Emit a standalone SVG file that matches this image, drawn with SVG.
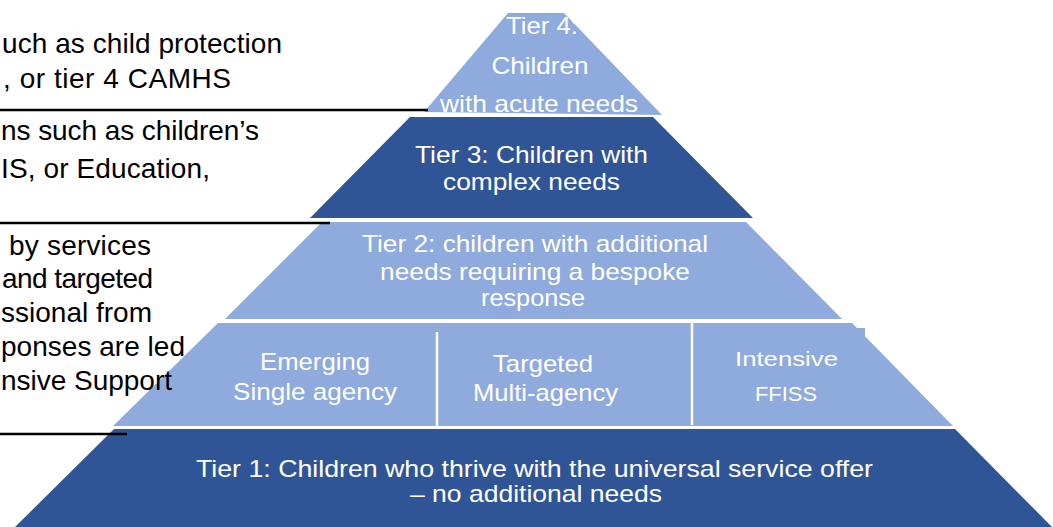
<svg xmlns="http://www.w3.org/2000/svg" width="1053" height="527" viewBox="0 0 1053 527">
  <style>
    .dark { fill: #2F5597; }
    .light { fill: #8FAADC; }
    .t { font-family: "Liberation Sans", Arial, sans-serif; fill: #FFFFFF; font-size: 24px; text-anchor: middle; }
    .side { font-family: "Liberation Sans", Arial, sans-serif; fill: #000000; font-size: 28px; text-anchor: start; }
    .rule { stroke: #000000; stroke-width: 2.5; fill: none; }
    .div { stroke: #FFFFFF; stroke-width: 2.5; fill: none; }
  </style>
  <rect x="0" y="0" width="1053" height="527" fill="#FFFFFF"/>

  <g id="tier4">
    <polygon class="light" points="508,13 564,13 662,115 424,112"/>
    <text class="t" x="542" y="34" textLength="72" lengthAdjust="spacingAndGlyphs">Tier 4:</text>
    <text class="t" x="540" y="74" textLength="97" lengthAdjust="spacingAndGlyphs">Children</text>
    <text class="t" x="539" y="112" textLength="198" lengthAdjust="spacingAndGlyphs">with acute needs</text>
  </g>

  <g id="tier3">
    <polygon class="dark" points="410,117 653,117 753,218 310,218"/>
    <text class="t" x="531.5" y="163" textLength="233" lengthAdjust="spacingAndGlyphs">Tier 3: Children with</text>
    <text class="t" x="531.5" y="190" textLength="177" lengthAdjust="spacingAndGlyphs">complex needs</text>
  </g>

  <g id="tier2">
    <polygon class="light" points="322,222 746,222 842,319 225,319"/>
    <text class="t" x="535" y="252" textLength="346" lengthAdjust="spacingAndGlyphs">Tier 2: children with additional</text>
    <text class="t" x="535" y="280" textLength="310" lengthAdjust="spacingAndGlyphs">needs requiring a bespoke</text>
    <text class="t" x="533" y="306" textLength="104" lengthAdjust="spacingAndGlyphs">response</text>
  </g>

  <g id="tier2-responses">
    <polygon class="light" points="218,323 852,323 953,426 113,426"/>
    <rect class="light" x="846" y="328" width="19" height="9"/>
    <line class="div" x1="437" y1="332" x2="437" y2="428"/>
    <line class="div" x1="692" y1="323" x2="692" y2="425"/>
  </g>

  <g id="emerging">
    <text class="t" x="315" y="370" textLength="110" lengthAdjust="spacingAndGlyphs">Emerging</text>
    <text class="t" x="315" y="400" textLength="164" lengthAdjust="spacingAndGlyphs">Single agency</text>
  </g>

  <g id="targeted">
    <text class="t" x="543" y="372" textLength="100" lengthAdjust="spacingAndGlyphs">Targeted</text>
    <text class="t" x="545.5" y="401" textLength="145" lengthAdjust="spacingAndGlyphs">Multi-agency</text>
  </g>

  <g id="intensive">
    <text class="t" x="786.5" y="366" style="font-size:21px" textLength="103" lengthAdjust="spacingAndGlyphs">Intensive</text>
    <text class="t" x="786" y="401" style="font-size:21px" textLength="62" lengthAdjust="spacingAndGlyphs">FFISS</text>
  </g>

  <g id="tier1">
    <polygon class="dark" points="114,429 955,429 1052,527 15,527"/>
    <text class="t" x="534.5" y="477" textLength="677" lengthAdjust="spacingAndGlyphs">Tier 1: Children who thrive with the universal service offer</text>
    <text class="t" x="536" y="502" textLength="252" lengthAdjust="spacingAndGlyphs">– no additional needs</text>
  </g>

  <g id="connectors">
    <line class="rule" x1="0" y1="110" x2="428" y2="110"/>
    <line class="rule" x1="0" y1="223" x2="330" y2="223"/>
    <line class="rule" x1="0" y1="434" x2="127" y2="434"/>
  </g>

  <g id="side-notes">
    <text class="side" x="2" y="53" textLength="280" lengthAdjust="spacing">uch as child protection</text>
    <text class="side" x="3" y="88" textLength="228" lengthAdjust="spacing">, or tier 4 CAMHS</text>
    <text class="side" x="1" y="140" textLength="258" lengthAdjust="spacing">ns such as children’s</text>
    <text class="side" x="1" y="178" textLength="209" lengthAdjust="spacing">IS, or Education,</text>
    <text class="side" x="9" y="255" textLength="142" lengthAdjust="spacing">by services</text>
    <text class="side" x="2" y="288" textLength="151" lengthAdjust="spacing">and targeted</text>
    <text class="side" x="1" y="322" textLength="151" lengthAdjust="spacing">ssional from</text>
    <text class="side" x="1" y="356" textLength="184" lengthAdjust="spacing">ponses are led</text>
    <text class="side" x="1" y="390" textLength="171" lengthAdjust="spacing">nsive Support</text>
  </g>
</svg>
